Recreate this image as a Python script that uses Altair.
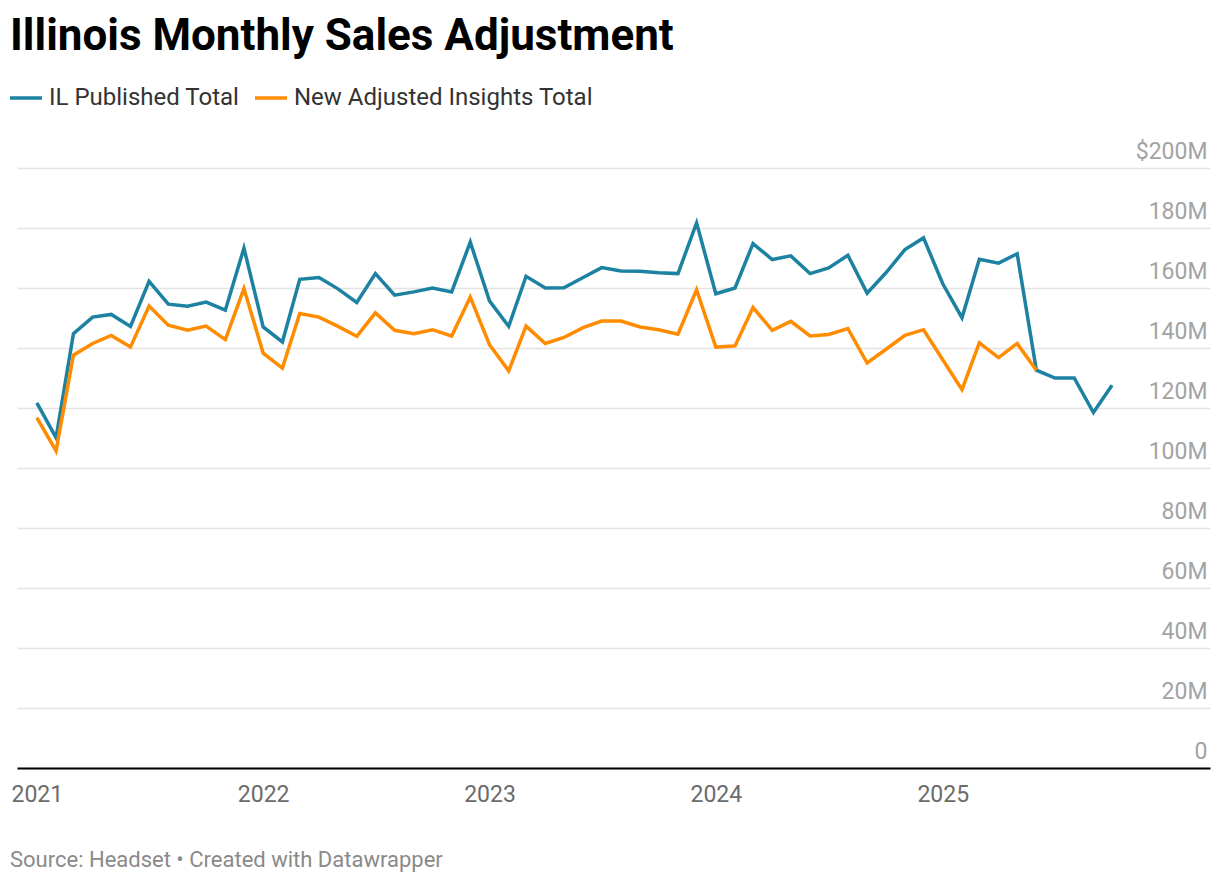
import altair as alt
import pandas as pd

# ---- data (values in $ millions), monthly from Jan 2021 ----
series_names = ["IL Published Total", "New Adjusted Insights Total"]
series_colors = ["#1d81a2", "#ff8c00"]

il_published = [
    121.7, 110.1, 144.8, 150.3, 151.2, 147.2, 162.2, 154.6, 153.9, 155.3, 152.6, 173.3,
    147.0, 142.0, 162.9, 163.5, 159.8, 155.2, 164.8, 157.6, 158.7, 160.0, 158.7, 175.3,
    155.7, 147.2, 163.9, 160.0, 160.1, 163.5, 166.8, 165.7, 165.6, 165.1, 164.8, 181.7,
    158.1, 160.0, 174.8, 169.5, 170.7, 164.8, 166.7, 170.9, 158.3, 165.0, 172.8, 176.7,
    161.4, 150.1, 169.6, 168.3, 171.4, 132.6, 130.0, 130.0, 118.5, 127.6,
]
new_adjusted = [
    116.8, 105.7, 137.6, 141.5, 144.2, 140.3, 154.0, 147.6, 145.9, 147.3, 142.8, 159.8,
    138.3, 133.3, 151.5, 150.3, 147.3, 143.9, 151.7, 145.9, 144.8, 146.1, 144.0, 157.0,
    141.1, 132.4, 147.3, 141.5, 143.5, 146.8, 149.0, 149.0, 147.0, 146.1, 144.6, 159.4,
    140.3, 140.7, 153.5, 145.9, 148.9, 144.0, 144.5, 146.5, 135.0, 139.5, 144.2, 146.1,
    136.1, 126.1, 141.7, 136.8, 141.5, 132.6,
]
months = [d.strftime("%Y-%m-%d") for d in pd.date_range("2021-01-01", periods=len(il_published), freq="MS")]

y_ticks = [0, 20, 40, 60, 80, 100, 120, 140, 160, 180, 200]
x_tick_years = [2021, 2022, 2023, 2024, 2025]

title_text = "Illinois Monthly Sales Adjustment"
source_text = "Source: Headset \u2022 Created with Datawrapper"

rows = []
for m, v in zip(months, il_published):
    rows.append({"date": m, "series": series_names[0], "value": v})
for m, v in zip(months, new_adjusted):
    rows.append({"date": m, "series": series_names[1], "value": v})
df = pd.DataFrame(rows)

FONT = "Roboto"

x_enc = alt.X(
    "date:T",
    scale=alt.Scale(
        type="utc",
        domain=[alt.DateTime(year=2020, month=11, date=30, utc=True),
                alt.DateTime(year=2026, month=3, date=8, utc=True)],
    ),
    axis=alt.Axis(
        title=None,
        values=[alt.DateTime(year=y, month=1, date=1, utc=True) for y in x_tick_years],
        labelExpr="utcFormat(datum.value, '%Y')",
        grid=False,
        ticks=False,
        domain=True,
        domainColor="#000000",
        domainWidth=2,
        labelFont=FONT,
        labelFontSize=23,
        labelColor="#6b6b6b",
        labelPadding=15,
        labelBaseline="top",
        labelAlign="center",
    ),
)

y_enc = alt.Y(
    "value:Q",
    scale=alt.Scale(domain=[0, 200], nice=False, zero=True),
    axis=alt.Axis(
        title=None,
        orient="right",
        values=y_ticks,
        labelExpr="datum.value == 200 ? '$200M' : (datum.value == 0 ? '0' : datum.value + 'M')",
        grid=True,
        gridColor="#e3e3e3",
        gridWidth=1.5,
        domain=False,
        ticks=False,
        labelFont=FONT,
        labelFontSize=23,
        labelColor="#a3a3a3",
        labelAlign="right",
        labelBaseline="alphabetic",
        labelPadding=-3,
        labelOffset=-9.5,
    ),
)

lines = alt.Chart(df).mark_line(strokeWidth=3.5, strokeJoin="miter").encode(
    x=x_enc,
    y=y_enc,
    color=alt.Color(
        "series:N",
        scale=alt.Scale(domain=series_names, range=series_colors),
        sort=series_names,
        legend=alt.Legend(
            title=None,
            orient="none",
            direction="horizontal",
            legendX=-9,
            legendY=-88,
            symbolType="stroke",
            symbolSize=1024,
            symbolStrokeWidth=3.5,
            labelFont=FONT,
            labelFontSize=24,
            labelColor="#333333",
            labelOffset=5,
            labelLimit=0,
            columnPadding=8,
            padding=0,
        ),
    ),
    order=alt.Order("date:T"),
)

one = pd.DataFrame({"k": [0]})

title = alt.Chart(one).mark_text(
    text=title_text, font=FONT, fontSize=44, fontWeight="bold", color="#000000",
    align="left", baseline="alphabetic",
).encode(x=alt.value(-7), y=alt.value(-118))

source = alt.Chart(one).mark_text(
    text=source_text, font=FONT, fontSize=22, color="#8a8a8a",
    align="left", baseline="alphabetic",
).encode(x=alt.value(-7), y=alt.value(699))

chart = alt.layer(lines, title, source).properties(
    width=1193,
    height=600,
    autosize=alt.AutoSizeParams(type="none"),
    padding={"left": 9, "top": 160, "right": 2, "bottom": 108},
).configure(font=FONT).configure_view(stroke=None)

chart.save("out.html", embed_options={"renderer": "svg", "actions": False})
